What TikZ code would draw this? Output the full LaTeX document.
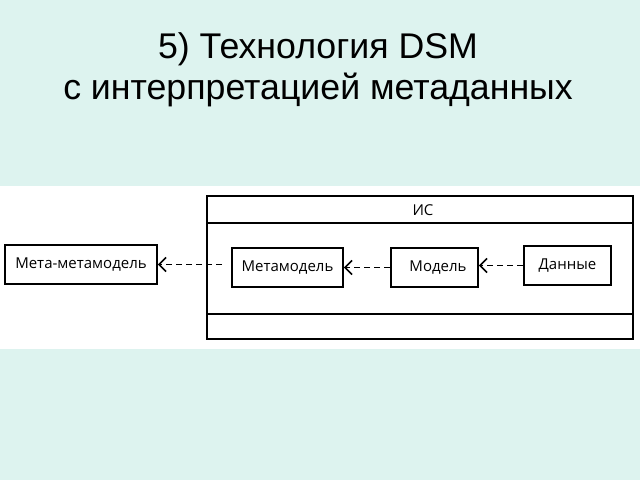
\documentclass[tikz,border=0pt]{standalone}
\usepackage{fontspec}
\setmainfont{Liberation Sans}
\newfontfamily\diagfont{Open Sans}
\usetikzlibrary{arrows.meta}
\definecolor{bgcyan}{RGB}{221,243,239}
\tikzset{
  box/.style={draw=black, line width=1.8pt, fill=white, minimum height=39pt, inner sep=0pt, font=\diagfont\fontsize{15}{18}\selectfont},
  dep/.style={line width=1.8pt, dash pattern=on 6pt off 4pt, -{Straight Barb[length=7pt,width=14pt,line width=1.6pt]}},
  title/.style={font=\fontsize{35.7}{41}\selectfont, align=center, text=black}
}
\begin{document}
\begin{tikzpicture}[x=1pt,y=-1pt]
\useasboundingbox (0,0) rectangle (640,480);
\fill[bgcyan] (0,0) rectangle (640,480);
\fill[white] (0,186) rectangle (640,349);
\node[title] (t) at (318,70) {5) Технология DSM\\с интерпретацией метаданных};
% IS box
\node[draw=black, line width=1.8pt, minimum width=426pt, minimum height=143pt, inner sep=0pt] (is) at (420,267.5) {};
\draw[line width=1.8pt] ([yshift=-28pt]is.north west) -- ([yshift=-28pt]is.north east);
\draw[line width=1.8pt] ([yshift=26pt]is.south west) -- ([yshift=26pt]is.south east);
\node[font=\diagfont\fontsize{15}{18}\selectfont] (ist) at (423,210) {ИС};
% nodes
\node[box, minimum width=152pt] (mmm) at (81,264.5) {Мета-метамодель};
\node[box, minimum width=111pt] (mm) at (287.5,267.5) {Метамодель};
\node[box, minimum width=87pt] (mo) at (434.5,267.5) {\hspace{7pt}Модель};
\node[box, minimum width=87pt] (da) at (567.5,265.5) {Данные};
% dependencies
\draw[dep] ([xshift=-9pt]mm.west |- mmm.east) -- (mmm.east);
\draw[dep] (mo.west) -- (mm.east);
\draw[dep] (da.west) -- (da.west -| mo.east);
\end{tikzpicture}
\end{document}
